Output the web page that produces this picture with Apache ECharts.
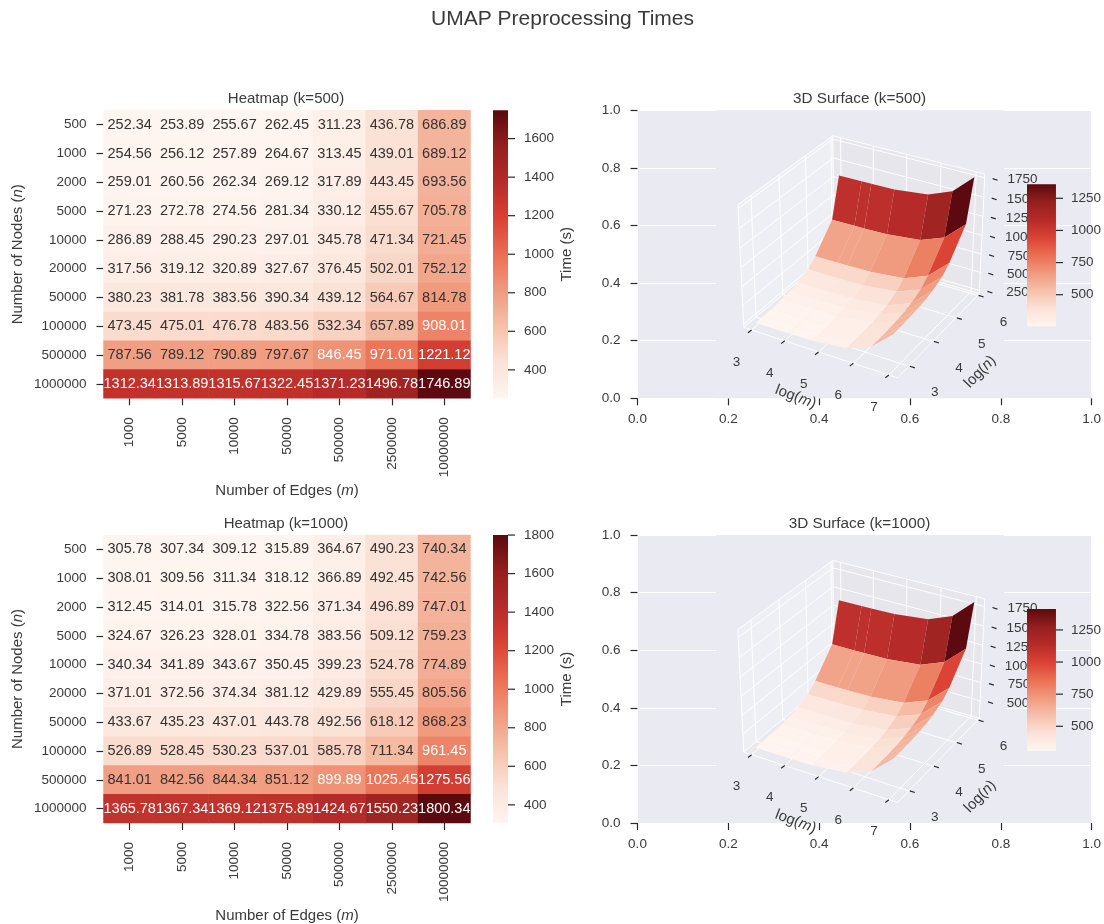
<!DOCTYPE html>
<html><head><meta charset="utf-8">
<style>html,body{margin:0;padding:0;background:#fff}#c{width:1104px;height:924px}canvas{filter:blur(.45px)}</style>
<script src="https://cdn.jsdelivr.net/npm/echarts@6/dist/echarts.min.js"></script>
</head><body><div id="c"></div>
<script>
const mLabels=['1000','5000','10000','50000','500000','2500000','10000000'];
const nLabels=['500','1000','2000','5000','10000','20000','50000','100000','500000','1000000'];
const times500=[
[252.34,253.89,255.67,262.45,311.23,436.78,686.89],
[254.56,256.12,257.89,264.67,313.45,439.01,689.12],
[259.01,260.56,262.34,269.12,317.89,443.45,693.56],
[271.23,272.78,274.56,281.34,330.12,455.67,705.78],
[286.89,288.45,290.23,297.01,345.78,471.34,721.45],
[317.56,319.12,320.89,327.67,376.45,502.01,752.12],
[380.23,381.78,383.56,390.34,439.12,564.67,814.78],
[473.45,475.01,476.78,483.56,532.34,657.89,908.01],
[787.56,789.12,790.89,797.67,846.45,971.01,1221.12],
[1312.34,1313.89,1315.67,1322.45,1371.23,1496.78,1746.89]];
const times1000=[
[305.78,307.34,309.12,315.89,364.67,490.23,740.34],
[308.01,309.56,311.34,318.12,366.89,492.45,742.56],
[312.45,314.01,315.78,322.56,371.34,496.89,747.01],
[324.67,326.23,328.01,334.78,383.56,509.12,759.23],
[340.34,341.89,343.67,350.45,399.23,524.78,774.89],
[371.01,372.56,374.34,381.12,429.89,555.45,805.56],
[433.67,435.23,437.01,443.78,492.56,618.12,868.23],
[526.89,528.45,530.23,537.01,585.78,711.34,961.45],
[841.01,842.56,844.34,851.12,899.89,1025.45,1275.56],
[1365.78,1367.34,1369.12,1375.89,1424.67,1550.23,1800.34]];
const heatTicks500=[400,600,800,1000,1200,1400,1600];
const heatTicks1000=[400,600,800,1000,1200,1400,1600,1800];
const surfBarTicks=[500,750,1000,1250];
const zTicks500=[250,500,750,1000,1250,1500,1750];
const zTicks1000=[500,750,1000,1250,1500,1750];
const mTicks3d=[3,4,5,6,7];
const nTicks3d=[3,4,5,6];
const reds=['#fff5f0','#fbe2d7','#f6c0aa','#f09a7e','#ea6f52','#da4234','#b62b29','#94201d','#5c0a0f'];

const FONT='"Liberation Sans"', TXT='#3a3a3a', TICK='#2a2a2a';
const grids=[],xAxes=[],yAxes=[],series=[],visualMaps=[],titles=[];
const nameRich={i:{fontStyle:'italic',fontSize:15,fontFamily:FONT,color:TXT}};

function addGrid(g,x,y){grids.push(g);x.gridIndex=grids.length-1;y.gridIndex=grids.length-1;xAxes.push(x);yAxes.push(y);return grids.length-1;}
function addTitle(text,cx,top,size){titles.push({text,left:cx,top,textAlign:'center',textStyle:{fontFamily:FONT,fontSize:size,fontWeight:'normal',color:TXT}});}

function colorBar(gridIdx,vmin,vmax,ticks){
  series.push({type:'custom',xAxisIndex:gridIdx,yAxisIndex:gridIdx,z:6,silent:true,data:[[0,vmin,1,vmax]],
    renderItem(p,api){
      const a=api.coord([api.value(0),api.value(3)]),b=api.coord([api.value(2),api.value(1)]);
      return {type:'rect',shape:{x:a[0],y:a[1],width:b[0]-a[0],height:b[1]-a[1]},
        style:{fill:new echarts.graphic.LinearGradient(0,1,0,0,reds.map((c,i)=>({offset:i/(reds.length-1),color:c})))}};
    }});
  series.push({type:'custom',xAxisIndex:gridIdx,yAxisIndex:gridIdx,z:6,silent:true,data:ticks.map(t=>[1,t]),
    renderItem(p,api){
      const a=api.coord([api.value(0),api.value(1)]);
      return {type:'line',shape:{x1:a[0],y1:a[1],x2:a[0]+7,y2:a[1]},style:{stroke:TICK,lineWidth:1.2}};
    }});
}
function barYAxis(vmin,vmax,ticks,margin,extra){
  return Object.assign({type:'value',position:'right',min:vmin,max:vmax,splitLine:{show:false},axisLine:{show:false},z:7,
    axisTick:{show:false},
    axisLabel:{customValues:ticks,margin,fontFamily:FONT,fontSize:13.5,color:TXT,formatter:v=>String(v)}},extra||{});
}

function addHeat(top,data,ticks,title){
  const H=288;
  const flat=data.flat(),vmin=Math.min(...flat),vmax=Math.max(...flat);
  const g=addGrid({left:103.5,width:367,top,height:H},
    {type:'category',data:mLabels,axisLine:{show:false},splitLine:{show:false},
     axisTick:{show:true,alignWithLabel:true,length:7,lineStyle:{color:TICK,width:1.2}},
     axisLabel:{rotate:90,margin:19,fontFamily:FONT,fontSize:13.5,color:TXT,interval:0},
     name:'Number of Edges ({i|m})',nameLocation:'middle',nameGap:85,nameTextStyle:{fontFamily:FONT,fontSize:15,color:TXT,rich:nameRich}},
    {type:'category',data:nLabels,inverse:true,axisLine:{show:false},splitLine:{show:false},
     axisTick:{show:true,alignWithLabel:true,length:7,lineStyle:{color:TICK,width:1.2}},
     axisLabel:{margin:17,fontFamily:FONT,fontSize:13.5,color:TXT,interval:0},
     name:'Number of Nodes ({i|n})',nameLocation:'middle',nameGap:78,nameRotate:90,nameTextStyle:{fontFamily:FONT,fontSize:15,color:TXT,rich:nameRich}});
  const items=[];
  data.forEach((row,r)=>row.forEach((v,c)=>items.push({value:[c,r,v],
    label:{color:(v-vmin)/(vmax-vmin)>0.385?'#fff':'#333'}})));
  visualMaps.push({show:false,seriesIndex:series.length,dimension:2,min:vmin,max:vmax,inRange:{color:reds}});
  series.push({type:'heatmap',xAxisIndex:g,yAxisIndex:g,data:items,itemStyle:{borderWidth:0},
    label:{show:true,fontFamily:FONT,fontSize:14.5,formatter:p=>p.value[2].toFixed(2)}});
  addTitle(title,281,top-24,15);
  const cb=addGrid({left:493,width:15,top,height:H},{type:'value',min:0,max:1,show:false},
    barYAxis(vmin,vmax,ticks,16,{name:'Time (s)',nameLocation:'middle',nameGap:51,nameRotate:90,nameTextStyle:{fontFamily:FONT,fontSize:15,color:TXT}}));
  colorBar(cb,vmin,vmax,ticks);
}

// view geometry of the 3D box (elevation 30, azimuth -60)
const BOX=[1.1905,1.1905,0.9425],U=[0.866,0.5,0],V=[-0.25,0.433,0.866],W=[0.433,-0.75,0.5],DIST=10;
const dot=(a,b)=>a[0]*b[0]+a[1]*b[1]+a[2]*b[2];

function addSurface(top,data,zTicks,title){
  const H=288;
  const flat=data.flat(),zShift=Math.min(...flat)-252.34;
  const lim={x:[2.76,7.24],y:[2.55,6.08],z:[205+zShift,1795+zShift]};
  const xs=mLabels.map(s=>Math.log10(+s)),ys=nLabels.map(s=>Math.log10(+s));
  const rel=(x,y,z)=>[((x-lim.x[0])/(lim.x[1]-lim.x[0])-0.5)*BOX[0],((y-lim.y[0])/(lim.y[1]-lim.y[0])-0.5)*BOX[1],((z-lim.z[0])/(lim.z[1]-lim.z[0])-0.5)*BOX[2]];
  const proj=(p)=>{const q=rel(p[0],p[1],p[2]),d=DIST-dot(W,q);return [dot(U,q)/d,dot(V,q)/d];};

  addGrid({left:637.5,width:458,top,height:H,show:true,backgroundColor:'#eaeaf2',borderWidth:0},
    {type:'value',min:0,max:1,interval:0.2,axisLine:{show:false},splitLine:{show:true,lineStyle:{color:'#fff',width:1}},
     axisTick:{show:true,length:7,lineStyle:{color:TICK,width:1.2}},axisLabel:{margin:14,fontFamily:FONT,fontSize:13.5,color:TXT,formatter:v=>v.toFixed(1)}},
    {type:'value',min:0,max:1,interval:0.2,axisLine:{show:false},splitLine:{show:true,lineStyle:{color:'#fff',width:1}},
     axisTick:{show:true,length:7,lineStyle:{color:TICK,width:1.2}},axisLabel:{margin:17,fontFamily:FONT,fontSize:13.5,color:TXT,formatter:v=>v.toFixed(1)}});
  addTitle(title,854.5,top-24,15.3);

  // hidden projection plane for the 3D box
  const g3=addGrid({left:716,width:288,top,height:H},
    {type:'value',min:-0.09966,max:0.09467,show:false},
    {type:'value',min:-0.0993,max:0.0950,show:false});

  const [x0,x1]=lim.x,[y0,y1]=lim.y,[z0,z1]=lim.z;
  const dec=[];
  dec.push({k:'bg'});
  dec.push({k:'poly',pts:[[x0,y0,z0],[x0,y1,z0],[x0,y1,z1],[x0,y0,z1]],fill:'#eeeff4'});
  dec.push({k:'poly',pts:[[x0,y1,z0],[x1,y1,z0],[x1,y1,z1],[x0,y1,z1]],fill:'#e6e6ec'});
  dec.push({k:'poly',pts:[[x0,y0,z0],[x1,y0,z0],[x1,y1,z0],[x0,y1,z0]],fill:'#e9e9f0'});
  const white=(pts)=>dec.push({k:'line',pts,color:'#fff',w:1});
  mTicks3d.forEach(m=>white([[m,y0,z0],[m,y1,z0],[m,y1,z1]]));
  nTicks3d.forEach(n=>white([[x1,n,z0],[x0,n,z0],[x0,n,z1]]));
  zTicks.forEach(z=>white([[x0,y0,z],[x0,y1,z],[x1,y1,z]]));
  white([[x0,y0,z0],[x1,y0,z0],[x1,y1,z0],[x1,y1,z1],[x0,y1,z1],[x0,y0,z1],[x0,y0,z0]]);
  white([[x0,y1,z1],[x0,y1,z0]]);
  white([[x0,y1,z0],[x1,y1,z0]]);
  white([[x0,y1,z0],[x0,y0,z0]]);
  const labs=[];
  mTicks3d.forEach(m=>{dec.push({k:'tick',at:[m,y0,z0],d:[-3.6,2.8]});labs.push({at:[m,y0,z0],dx:-15,dy:32,text:String(m)});});
  nTicks3d.forEach(n=>{dec.push({k:'tick',at:[x1,n,z0],d:[5,1.6],off:[1,0]});labs.push({at:[x1,n,z0],dx:26,dy:26.5,text:String(n)});});
  zTicks.forEach(z=>{dec.push({k:'tick',at:[x1,y1,z],d:[5,1.6],off:[8,1]});labs.push({at:[x1,y1,z],dx:38,dy:2,text:String(z)});});
  const mMid=(x0+x1)/2,nMid=(y0+y1)/2;
  labs.push({at:[mMid,y0,z0],dx:-23,dy:45,text:'log({i|m})',rot:-0.36,size:15});
  labs.push({at:[x1,nMid,z0],dx:40,dy:38,text:'log({i|n})',rot:0.8,size:15});

  const drawDec=(p,api)=>{
    const d=dec[p.dataIndex];
    const c=q=>api.coord(proj(q));
    if(d.k==='bg'){const s=p.coordSys;return {type:'rect',shape:{x:s.x,y:s.y,width:s.width,height:s.height},style:{fill:'#eaeaf2'}};}
    if(d.k==='poly')return {type:'polygon',shape:{points:d.pts.map(c)},style:{fill:d.fill}};
    if(d.k==='line')return {type:'polyline',shape:{points:d.pts.map(c)},style:{stroke:d.color,lineWidth:d.w,fill:'none'}};
    if(d.k==='tick'){const a=c(d.at),o=d.off||[0,0];return {type:'line',shape:{x1:a[0]+o[0],y1:a[1]+o[1],x2:a[0]+o[0]+d.d[0],y2:a[1]+o[1]+d.d[1]},style:{stroke:TICK,lineWidth:1.2}};}
  };
  series.push({type:'custom',xAxisIndex:g3,yAxisIndex:g3,z:3,silent:true,data:dec.map((d,i)=>[i,0]),renderItem:drawDec});

  // faces of the surface, far to near; colour = mean of the four corners
  const faces=[];
  for(let r=0;r<ys.length-1;r++)for(let c=0;c<xs.length-1;c++){
    const pts=[[xs[c],ys[r],data[r][c]],[xs[c+1],ys[r],data[r][c+1]],[xs[c+1],ys[r+1],data[r+1][c+1]],[xs[c],ys[r+1],data[r+1][c]]];
    const mean=pts.reduce((s,q)=>s+q[2],0)/4;
    const depth=pts.reduce((s,q)=>s+dot(W,rel(q[0],q[1],q[2])),0)/4;
    faces.push({pts,mean,depth});
  }
  faces.sort((a,b)=>a.depth-b.depth);
  const means=faces.map(f=>f.mean),fmin=Math.min(...means),fmax=Math.max(...means);
  visualMaps.push({show:false,seriesIndex:series.length,dimension:1,min:fmin,max:fmax,inRange:{color:reds}});
  series.push({type:'custom',xAxisIndex:g3,yAxisIndex:g3,z:4,silent:true,data:faces.map((f,i)=>[i,f.mean]),
    renderItem(p,api){
      const f=faces[p.dataIndex];
      return {type:'polygon',shape:{points:f.pts.map(q=>api.coord(proj(q)))},style:{fill:api.visual('color')}};
    }});
  series.push({type:'custom',xAxisIndex:g3,yAxisIndex:g3,z:4,silent:true,data:labs.map((d,i)=>[i,0]),
    renderItem(p,api){
      const d=labs[p.dataIndex],a=api.coord(proj(d.at)),sz=d.size||13.5;
      return {type:'text',x:a[0]+d.dx,y:a[1]+d.dy,rotation:d.rot||0,
        style:{text:d.text,textAlign:'center',textVerticalAlign:'middle',font:sz+'px '+FONT,fill:TXT,
          rich:{i:{fontStyle:'italic',fontSize:sz,fontFamily:FONT,fill:TXT,color:TXT}}}};
    }});

  const cb=addGrid({left:1027,width:29,top:top+74,height:142},{type:'value',min:0,max:1,show:false},
    barYAxis(fmin,fmax,surfBarTicks,15));
  colorBar(cb,fmin,fmax,surfBarTicks);
}

addHeat(110.3,times500,heatTicks500,'Heatmap (k=500)');
addHeat(535,times1000,heatTicks1000,'Heatmap (k=1000)');
addSurface(110.3,times500,zTicks500,'3D Surface (k=500)');
addSurface(535,times1000,zTicks1000,'3D Surface (k=1000)');
titles.push({text:'UMAP Preprocessing Times',left:557.5,top:4,textAlign:'center',textStyle:{fontFamily:FONT,fontSize:21,fontWeight:'normal',color:TXT}});

const chart=echarts.init(document.getElementById('c'),null,{renderer:'canvas',width:1104,height:924});
chart.setOption({animation:false,backgroundColor:'#fff',title:titles,grid:grids,xAxis:xAxes,yAxis:yAxes,visualMap:visualMaps,series});
</script></body></html>
